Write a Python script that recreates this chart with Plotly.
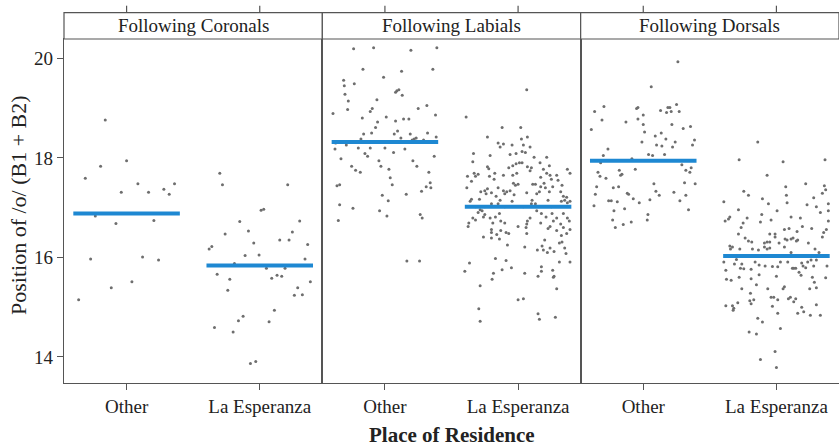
import plotly.graph_objects as go

# Panels (following consonant place) and residence groups
panels = ["Following Coronals", "Following Labials", "Following Dorsals"]
groups = ["Other", "La Esperanza"]
y_ticks = [14, 16, 18, 20]

# Per-speaker token values: (horizontal jitter, position of /o/)
coronals_other = [(-0.16, 18.76), (-0.195, 17.83), (0.0, 17.94), (-0.31, 17.59), (0.085, 17.48), (-0.04, 17.31),
                  (0.165, 17.31), (0.28, 17.37), (0.36, 17.48), (0.32, 17.27), (-0.235, 16.83), (-0.08, 16.68),
                  (0.205, 16.74), (-0.27, 15.97), (0.12, 16.01), (0.24, 15.95), (-0.115, 15.39), (0.04, 15.51),
                  (-0.36, 15.15)]

coronals_esperanza = [(-0.30, 17.69), (-0.28, 17.46), (0.21, 17.46), (0.01, 16.95), (0.03, 16.97), (-0.15, 16.72),
                      (0.30, 16.73), (-0.26, 16.47), (-0.085, 16.53), (0.245, 16.51), (0.15, 16.35), (0.22, 16.35),
                      (-0.045, 16.29), (0.36, 16.26), (-0.38, 16.17), (-0.36, 16.22), (-0.11, 16.04), (-0.005, 16.05),
                      (0.34, 15.97), (-0.19, 15.88), (0.05, 15.78), (0.19, 15.78), (-0.32, 15.66), (0.09, 15.58),
                      (0.13, 15.64), (0.165, 15.62), (-0.225, 15.56), (0.38, 15.51), (-0.24, 15.34), (0.285, 15.39),
                      (0.26, 15.24), (0.32, 15.25), (0.11, 14.94), (-0.125, 14.82), (-0.16, 14.73), (0.07, 14.71),
                      (-0.34, 14.59), (-0.20, 14.50), (-0.07, 13.87), (-0.03, 13.91)]

labials_other = [(-0.235, 20.19), (-0.085, 20.21), (0.195, 20.16), (0.39, 20.21), (-0.165, 19.78), (0.125, 19.74),
                 (0.36, 19.78), (-0.01, 19.62), (-0.31, 19.56), (-0.305, 19.45), (-0.23, 19.49), (0.09, 19.35),
                 (0.105, 19.37), (0.08, 19.32), (0.13, 19.26), (-0.30, 19.28), (-0.06, 19.17), (-0.275, 19.14),
                 (-0.095, 18.99), (-0.11, 18.93), (-0.28, 18.97), (0.25, 18.99), (0.315, 19.05), (-0.39, 18.89),
                 (0.38, 18.86), (-0.17, 18.80), (0.01, 18.82), (0.14, 18.78), (0.18, 18.78), (0.08, 18.74),
                 (-0.055, 18.72), (-0.07, 18.61), (0.095, 18.54), (0.07, 18.48), (-0.16, 18.48), (-0.10, 18.50),
                 (0.19, 18.48), (0.32, 18.50), (0.12, 18.40), (0.235, 18.40), (0.22, 18.38), (0.205, 18.36),
                 (0.385, 18.42), (0.29, 18.36), (-0.18, 18.38), (-0.37, 18.30), (-0.29, 18.26), (-0.375, 18.18),
                 (-0.20, 18.20), (-0.11, 18.20), (0.0, 18.20), (0.15, 18.18), (-0.15, 18.09), (-0.13, 18.03),
                 (0.065, 18.11), (0.37, 18.03), (-0.33, 17.98), (-0.045, 17.94), (0.21, 17.94), (-0.03, 17.83),
                 (-0.25, 17.83), (0.24, 17.83), (-0.22, 17.75), (-0.185, 17.71), (0.03, 17.77), (0.33, 17.71),
                 (0.04, 17.60), (0.055, 17.46), (0.34, 17.50), (-0.36, 17.44), (-0.34, 17.46), (0.31, 17.42),
                 (0.345, 17.40), (0.275, 17.33), (0.16, 17.27), (-0.02, 17.25), (0.025, 17.14), (-0.34, 17.06),
                 (-0.24, 16.99), (-0.04, 16.94), (0.015, 16.83), (0.265, 16.86), (0.28, 16.79), (-0.35, 16.74),
                 (0.165, 15.93), (0.26, 15.93)]

labials_esperanza = [(0.065, 19.37), (-0.39, 18.82), (-0.12, 18.61), (0.02, 18.61), (-0.23, 18.42), (0.025, 18.38),
                     (0.07, 18.42), (-0.15, 18.30), (-0.11, 18.28), (-0.135, 18.22), (-0.045, 18.26), (0.04, 18.26),
                     (0.09, 18.22), (0.03, 18.13), (0.055, 18.11), (-0.335, 18.09), (-0.015, 18.09), (-0.06, 18.07),
                     (-0.21, 18.05), (0.12, 18.01), (0.215, 18.01), (-0.34, 17.92), (-0.015, 17.88), (0.01, 17.90),
                     (0.03, 17.90), (0.165, 17.90), (-0.04, 17.84), (0.07, 17.82), (0.235, 17.84), (-0.23, 17.82),
                     (-0.22, 17.78), (-0.07, 17.80), (0.10, 17.80), (0.09, 17.74), (0.19, 17.77), (0.37, 17.77),
                     (-0.175, 17.69), (-0.01, 17.69), (0.215, 17.69), (0.39, 17.69), (-0.33, 17.69), (-0.30, 17.67),
                     (-0.32, 17.63), (-0.38, 17.63), (-0.215, 17.63), (-0.11, 17.65), (-0.04, 17.65), (0.24, 17.65),
                     (0.29, 17.65), (0.17, 17.61), (-0.18, 17.57), (0.25, 17.57), (0.30, 17.55), (-0.35, 17.53),
                     (-0.035, 17.49), (-0.02, 17.45), (0.0, 17.47), (0.11, 17.47), (0.13, 17.47), (0.195, 17.49),
                     (0.33, 17.45), (-0.385, 17.40), (-0.15, 17.40), (0.17, 17.42), (0.205, 17.40), (0.26, 17.42),
                     (-0.25, 17.34), (-0.23, 17.38), (-0.11, 17.34), (-0.085, 17.32), (-0.06, 17.34), (0.32, 17.32),
                     (-0.28, 17.32), (-0.20, 17.30), (0.065, 17.30), (0.235, 17.32), (-0.24, 17.28), (-0.10, 17.28),
                     (0.14, 17.28), (0.16, 17.32), (-0.03, 17.26), (-0.165, 17.23), (0.34, 17.23), (0.365, 17.21),
                     (-0.35, 17.17), (-0.29, 17.17), (-0.135, 17.15), (-0.045, 17.13), (0.105, 17.15), (0.225, 17.15),
                     (0.325, 17.13), (0.35, 17.15), (0.39, 17.13), (-0.36, 17.13), (-0.20, 17.08), (-0.15, 17.08),
                     (0.10, 17.08), (0.13, 17.08), (0.37, 17.10), (-0.32, 17.02), (-0.25, 17.02), (-0.10, 17.02),
                     (0.04, 17.02), (0.25, 17.02), (-0.285, 16.96), (-0.27, 16.94), (-0.14, 16.88), (-0.30, 16.90),
                     (-0.25, 16.86), (-0.26, 16.81), (0.175, 16.88), (0.255, 16.88), (0.34, 16.88), (0.14, 16.94),
                     (-0.34, 16.79), (-0.21, 16.79), (-0.17, 16.81), (0.09, 16.79), (0.21, 16.81), (0.29, 16.79),
                     (0.37, 16.79), (-0.32, 16.75), (-0.13, 16.73), (0.07, 16.73), (0.265, 16.73), (0.385, 16.73),
                     (-0.37, 16.69), (-0.19, 16.69), (-0.10, 16.69), (0.065, 16.67), (0.17, 16.69), (0.32, 16.67),
                     (-0.375, 16.62), (0.0, 16.62), (0.06, 16.60), (0.24, 16.62), (0.34, 16.60), (-0.20, 16.56),
                     (-0.13, 16.54), (0.225, 16.58), (0.39, 16.56), (-0.20, 16.50), (-0.09, 16.50), (-0.07, 16.48),
                     (0.065, 16.48), (-0.16, 16.46), (0.29, 16.54), (0.365, 16.48), (-0.26, 16.41), (-0.20, 16.39),
                     (-0.14, 16.37), (0.325, 16.44), (0.20, 16.35), (0.31, 16.29), (0.33, 16.31), (-0.08, 16.25),
                     (0.05, 16.21), (0.18, 16.23), (0.24, 16.19), (0.35, 16.19), (0.145, 16.15), (0.19, 16.15),
                     (0.27, 16.12), (0.22, 16.10), (0.36, 16.08), (-0.17, 15.98), (-0.09, 15.94), (-0.365, 15.89),
                     (0.31, 15.91), (0.39, 15.91), (0.175, 15.81), (-0.05, 15.79), (-0.12, 15.75), (-0.40, 15.72),
                     (0.175, 15.72), (0.26, 15.74), (-0.185, 15.68), (0.05, 15.68), (0.27, 15.62), (0.15, 15.62),
                     (0.265, 15.60), (-0.195, 15.56), (-0.285, 15.43), (0.29, 15.37), (0.0, 15.15), (0.04, 15.17),
                     (-0.295, 14.97), (0.15, 14.87), (0.16, 14.76), (0.28, 14.80), (-0.285, 14.72)]

dorsals_other = [(0.26, 19.93), (0.06, 19.43), (-0.295, 19.03), (-0.365, 18.93), (-0.05, 18.99), (-0.04, 19.01),
                 (0.185, 19.01), (0.20, 19.01), (0.25, 19.07), (0.13, 18.95), (0.21, 18.93), (0.175, 18.91),
                 (0.27, 18.93), (0.0, 18.86), (-0.31, 18.76), (-0.04, 18.78), (-0.13, 18.72), (0.0, 18.67),
                 (0.215, 18.67), (0.355, 18.63), (0.30, 18.59), (-0.39, 18.57), (0.01, 18.52), (0.135, 18.50),
                 (0.09, 18.44), (0.17, 18.38), (0.385, 18.36), (-0.01, 18.32), (0.24, 18.32), (0.10, 18.26),
                 (0.14, 18.24), (0.37, 18.26), (0.22, 18.22), (-0.265, 18.18), (0.04, 18.07), (0.07, 18.05),
                 (0.16, 18.07), (-0.30, 18.05), (-0.085, 17.98), (-0.32, 17.90), (0.29, 17.86), (0.36, 17.80),
                 (-0.06, 17.77), (0.32, 17.75), (-0.18, 17.75), (-0.34, 17.71), (0.35, 17.71), (-0.16, 17.67),
                 (-0.17, 17.65), (-0.325, 17.63), (-0.28, 17.59), (0.08, 17.48), (0.31, 17.50), (0.39, 17.48),
                 (-0.35, 17.42), (-0.185, 17.42), (-0.225, 17.40), (0.095, 17.33), (-0.12, 17.29), (-0.11, 17.27),
                 (0.23, 17.31), (-0.36, 17.27), (0.12, 17.25), (0.32, 17.25), (-0.075, 17.18), (0.05, 17.16),
                 (-0.26, 17.14), (-0.24, 17.14), (-0.195, 17.12), (-0.03, 17.10), (0.275, 17.14), (-0.37, 17.04),
                 (-0.14, 16.98), (-0.22, 16.94), (0.34, 16.96), (0.035, 16.86), (-0.23, 16.75), (-0.09, 16.71),
                 (0.03, 16.75), (-0.15, 16.66), (-0.21, 16.60)]

dorsals_esperanza = [(-0.14, 18.32), (-0.28, 17.96), (0.05, 17.92), (0.365, 17.96), (-0.07, 17.65), (0.22, 17.48),
                     (0.07, 17.42), (0.36, 17.44), (-0.245, 17.33), (0.345, 17.29), (0.37, 17.36), (0.075, 17.25),
                     (-0.21, 17.25), (-0.105, 17.18), (0.28, 17.20), (-0.395, 17.12), (-0.06, 17.08), (0.08, 17.10),
                     (0.23, 17.06), (0.39, 17.08), (0.30, 17.02), (-0.285, 16.96), (0.005, 16.94), (0.39, 16.94),
                     (0.33, 16.90), (-0.11, 16.86), (-0.35, 16.81), (-0.22, 16.79), (0.11, 16.81), (0.18, 16.79),
                     (-0.36, 16.77), (-0.385, 16.73), (-0.12, 16.71), (-0.04, 16.75), (0.39, 16.73), (-0.25, 16.69),
                     (0.195, 16.62), (-0.265, 16.60), (0.06, 16.56), (0.095, 16.58), (0.265, 16.58), (0.375, 16.56),
                     (0.155, 16.52), (0.355, 16.50), (-0.285, 16.47), (-0.05, 16.47), (-0.01, 16.47), (0.345, 16.41),
                     (-0.01, 16.41), (-0.235, 16.39), (0.065, 16.37), (0.08, 16.35), (0.11, 16.37), (0.125, 16.39),
                     (0.16, 16.35), (-0.21, 16.33), (-0.185, 16.31), (-0.07, 16.31), (-0.05, 16.31), (-0.09, 16.29),
                     (0.02, 16.29), (0.24, 16.29), (-0.35, 16.23), (-0.33, 16.21), (-0.09, 16.21), (-0.05, 16.19),
                     (0.06, 16.21), (-0.345, 16.17), (-0.275, 16.17), (-0.18, 16.17), (-0.135, 16.15), (-0.07, 16.17),
                     (0.29, 16.17), (0.15, 16.33), (0.32, 16.10), (-0.31, 16.04), (0.11, 16.10), (-0.22, 16.02),
                     (-0.08, 16.02), (0.02, 16.02), (0.21, 16.02), (0.335, 16.02), (-0.30, 15.96), (-0.395, 15.91),
                     (-0.16, 15.91), (0.03, 15.91), (0.085, 15.91), (0.26, 15.95), (0.30, 15.95), (0.19, 15.89),
                     (0.235, 15.91), (-0.315, 15.87), (-0.26, 15.87), (0.20, 15.83), (0.22, 15.79), (0.28, 15.83),
                     (0.38, 15.83), (-0.245, 15.77), (-0.13, 15.85), (-0.085, 15.83), (-0.03, 15.82), (0.01, 15.81),
                     (-0.38, 15.74), (-0.27, 15.78), (-0.19, 15.76), (0.12, 15.78), (0.13, 15.78), (0.145, 15.78),
                     (0.17, 15.70), (-0.375, 15.56), (-0.34, 15.54), (-0.28, 15.60), (-0.19, 15.57), (-0.13, 15.65),
                     (0.0, 15.62), (0.185, 15.64), (0.27, 15.60), (0.37, 15.59), (0.285, 15.50), (-0.15, 15.45),
                     (-0.26, 15.37), (-0.065, 15.37), (0.06, 15.41), (0.05, 15.37), (0.25, 15.37), (0.30, 15.39),
                     (-0.195, 15.28), (-0.04, 15.20), (-0.02, 15.20), (0.01, 15.15), (0.09, 15.17), (0.105, 15.20),
                     (0.145, 15.17), (-0.20, 15.13), (-0.17, 15.15), (-0.19, 15.07), (-0.29, 15.09), (-0.38, 15.03),
                     (-0.33, 15.03), (-0.32, 14.98), (-0.325, 14.94), (-0.03, 15.02), (0.13, 15.11), (0.19, 15.00),
                     (0.30, 15.05), (0.01, 14.88), (0.16, 14.88), (0.205, 14.91), (0.255, 14.84), (0.33, 14.84),
                     (-0.14, 14.78), (-0.105, 14.70), (0.03, 14.57), (-0.205, 14.50), (-0.15, 14.46), (-0.01, 14.11),
                     (-0.12, 13.95), (0.0, 13.79)]

# Group means (blue bars), per panel: [Other, La Esperanza]
group_means = [[16.88, 15.84], [18.32, 17.02], [17.94, 16.03]]

panel_data = [[coronals_other, coronals_esperanza],
              [labials_other, labials_esperanza],
              [dorsals_other, dorsals_esperanza]]

FONT = "Liberation Serif"
TEXT = "#222222"
FRAME = "#555555"
DOT = "#6e6e6e"
MEAN = "#1e88d2"
Y_RANGE = [13.477, 20.388]
X_RANGE = [0.53, 2.47]
HALF_BAR = 0.4

W, H = 839, 448
ML, MR, MT, MB = 64, 0, 39, 65
plot_h = H - MT - MB
strip_top = 1 + 26.3 / plot_h

fig = go.Figure()
layout = dict(
    width=W, height=H, margin=dict(l=ML, r=MR, t=MT, b=MB),
    paper_bgcolor="white", plot_bgcolor="white", showlegend=False,
    font=dict(family=FONT, color=TEXT, size=19),
)

shapes, annotations = [], []
for i, (name, data_pair, means) in enumerate(zip(panels, panel_data, group_means)):
    suffix = "" if i == 0 else str(i + 1)
    xa, ya = "x" + suffix, "y" + suffix
    for g, pts in enumerate(data_pair):
        jit, vals = zip(*pts)
        fig.add_trace(go.Scatter(
            x=[g + 1 + j for j in jit], y=list(vals), mode="markers",
            marker=dict(size=3, color=DOT), xaxis=xa, yaxis=ya, hoverinfo="y"))
    for g, m in enumerate(means):
        fig.add_trace(go.Scatter(
            x=[g + 1 - HALF_BAR, g + 1 + HALF_BAR], y=[m, m], mode="lines",
            line=dict(color=MEAN, width=4), xaxis=xa, yaxis=ya, hoverinfo="y"))

    dom = [i / 3, (i + 1) / 3]
    layout["xaxis" + suffix] = dict(
        domain=dom, range=X_RANGE, tickvals=[1, 2], ticktext=groups,
        showline=True, mirror=True, linecolor=FRAME, linewidth=1.2,
        ticks="outside", ticklen=6, tickcolor=FRAME, tickwidth=1.2,
        showgrid=False, zeroline=False, anchor=ya,
        tickfont=dict(family=FONT, size=19, color=TEXT))
    layout["yaxis" + suffix] = dict(
        range=Y_RANGE, showline=True, mirror=True, linecolor=FRAME, linewidth=1.2,
        showgrid=False, zeroline=False, anchor=xa,
        tickvals=y_ticks if i == 0 else [],
        ticks="outside" if i == 0 else "", ticklen=6, tickcolor=FRAME, tickwidth=1.2,
        showticklabels=(i == 0),
        tickfont=dict(family=FONT, size=19, color=TEXT))

    # strip header
    shapes.append(dict(type="rect", xref="paper", yref="paper", x0=dom[0], x1=dom[1],
                       y0=1, y1=strip_top, line=dict(color=FRAME, width=1.2),
                       fillcolor="white", layer="above"))
    annotations.append(dict(text=name, xref="paper", yref="paper", x=(dom[0] + dom[1]) / 2,
                            y=(1 + strip_top) / 2, showarrow=False, xanchor="center",
                            yanchor="middle", font=dict(family=FONT, size=19, color=TEXT)))
    # tick marks above the strip
    for c in (1, 2):
        shapes.append(dict(type="line", xref=xa, yref="paper", x0=c, x1=c,
                           y0=strip_top, y1=strip_top + 7 / plot_h,
                           line=dict(color=FRAME, width=1.2)))

annotations.append(dict(text="<b>Place of Residence</b>", xref="paper", yref="paper",
                        x=0.5, y=-(435 - (H - MB)) / plot_h, showarrow=False,
                        xanchor="center", yanchor="middle",
                        font=dict(family=FONT, size=21, color=TEXT)))
annotations.append(dict(text="Position of /o/ (B1 + B2)", xref="paper", yref="paper",
                        x=(18 - ML) / (W - ML - MR), y=((H - MB) - 205) / plot_h,
                        textangle=-90, showarrow=False, xanchor="center", yanchor="middle",
                        font=dict(family=FONT, size=22, color=TEXT)))

layout["shapes"] = shapes
layout["annotations"] = annotations
fig.update_layout(**layout)
fig.write_html("out.html")
